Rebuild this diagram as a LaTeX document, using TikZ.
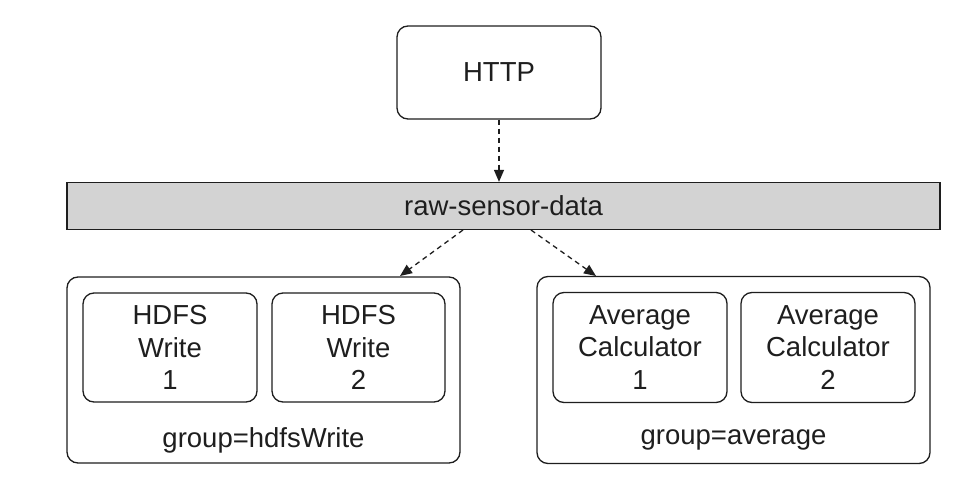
\documentclass[tikz,border=0pt]{standalone}
\usepackage{fontspec}
\setmainfont{Liberation Sans}
\usetikzlibrary{arrows.meta}
\definecolor{barfill}{RGB}{211,211,211}
\definecolor{ink}{RGB}{30,30,30}
\begin{document}
\begin{tikzpicture}[x=1pt,y=-1pt,
  box/.style={draw=ink,line width=1.3pt,rounded corners=11pt,fill=white,
    inner sep=0pt,align=center,text=ink,font=\fontsize{27.5}{32.5}\selectfont},
  bar/.style={draw=ink,line width=1.3pt,fill=barfill,inner sep=0pt,text=ink,
    font=\fontsize{27.5}{32.5}\selectfont},
  flow/.style={draw=ink,line width=1.3pt,dash pattern=on 5pt off 4pt,
    -{Triangle[length=12pt,width=10pt]}},
  lbl/.style={text=ink,font=\fontsize{27.5}{32.5}\selectfont,inner sep=0pt}]
\useasboundingbox (0,0) rectangle (979,479);
\node[box,minimum width=204pt,minimum height=93pt] (http) at (499,72.5) {HTTP};
\node[bar,minimum width=873pt,minimum height=47pt] (bar) at (503.5,206) {raw-sensor-data};
\node[box,minimum width=393pt,minimum height=186pt] (g1) at (263.5,370) {};
\node[box,minimum width=393pt,minimum height=187pt] (g2) at (733.5,370) {};
\node[box,minimum width=174pt,minimum height=109pt] (h1) at (170,347.5) {HDFS\\Write\\1};
\node[box,minimum width=173pt,minimum height=109pt] (h2) at (358.5,347.5) {HDFS\\Write\\2};
\node[box,minimum width=174pt,minimum height=110pt] (a1) at (640,347.5) {Average\\Calculator\\1};
\node[box,minimum width=174pt,minimum height=110pt] (a2) at (828,347.5) {Average\\Calculator\\2};
\node[lbl] (l1) at (263.5,440) {group=hdfsWrite};
\node[lbl] (l2) at (733.5,440) {group=average};
\coordinate (s1) at (463,230);
\coordinate (t1) at (400,276);
\coordinate (s2) at (531,230);
\coordinate (t2) at (596,276);
\draw[flow] (http.south) -- (bar.north -| http.south);
\draw[flow] (s1) -- (t1);
\draw[flow] (s2) -- (t2);
\end{tikzpicture}
\end{document}
